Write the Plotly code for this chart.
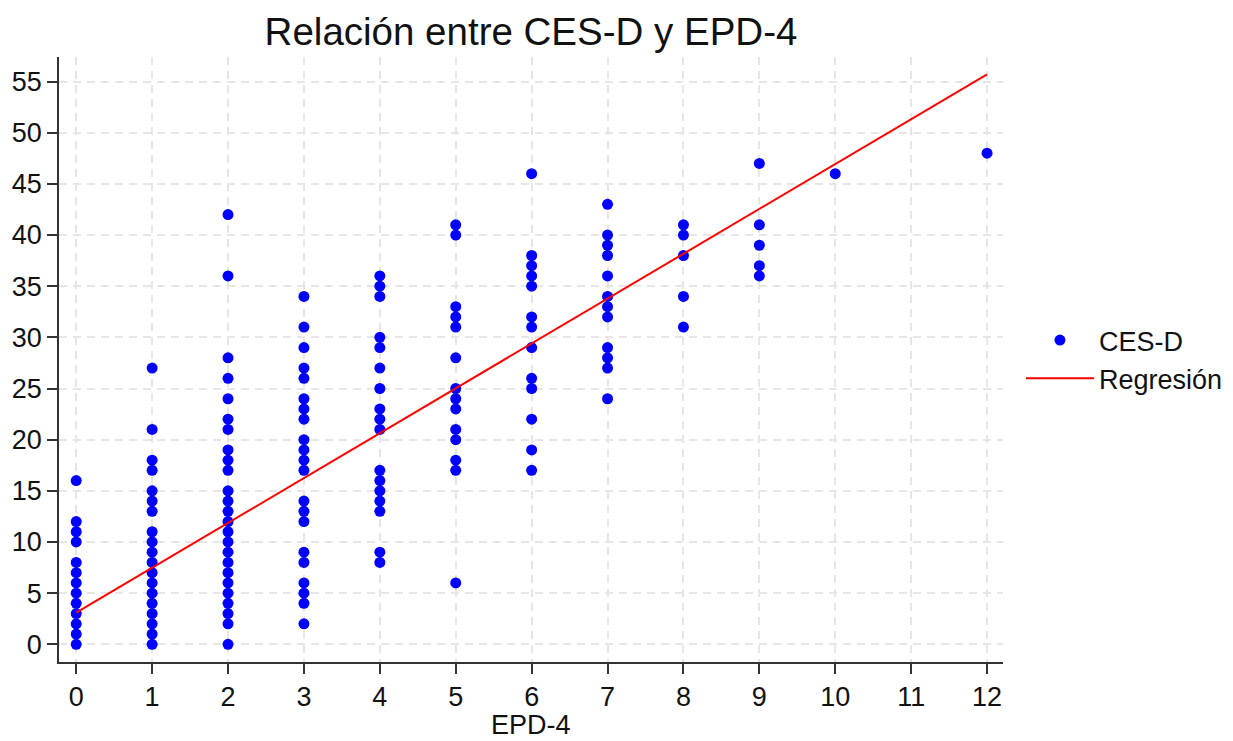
import numpy as np
import plotly.graph_objects as go

epd_0 = [16, 12, 11, 10, 8, 7, 6, 5, 4, 3, 2, 1, 0]
epd_1 = [27, 21, 18, 17, 15, 14, 13, 11, 10, 9, 8, 7, 6, 5, 4, 3, 2, 1, 0]
epd_2 = [42, 36, 28, 26, 24, 22, 21, 19, 18, 17, 15, 14, 13, 12, 11, 10, 9, 8, 7, 6, 5, 4, 3, 2, 0]
epd_3 = [34, 31, 29, 27, 26, 24, 23, 22, 20, 19, 18, 17, 14, 13, 12, 9, 8, 6, 5, 4, 2]
epd_4 = [36, 35, 34, 30, 29, 27, 25, 23, 22, 21, 17, 16, 15, 14, 13, 9, 8]
epd_5 = [41, 40, 33, 32, 31, 28, 25, 24, 23, 21, 20, 18, 17, 6]
epd_6 = [46, 38, 37, 36, 35, 32, 31, 29, 26, 25, 22, 19, 17]
epd_7 = [43, 40, 39, 38, 36, 34, 33, 32, 29, 28, 27, 24]
epd_8 = [41, 40, 38, 34, 31]
epd_9 = [47, 41, 39, 37, 36]
epd_10 = [46]
epd_12 = [48]

groups = {0: epd_0, 1: epd_1, 2: epd_2, 3: epd_3, 4: epd_4, 5: epd_5,
          6: epd_6, 7: epd_7, 8: epd_8, 9: epd_9, 10: epd_10, 12: epd_12}

x_vals = []
y_vals = []
for k, vals in groups.items():
    x_vals += [k] * len(vals)
    y_vals += vals

# Regression line (endpoints at EPD-4 = 0 and 12)
reg_intercept = 3.1
reg_slope = (55.7 - 3.1) / 12
reg_x = [0, 12]
reg_y = [reg_intercept + reg_slope * v for v in reg_x]

x_ticks = list(range(0, 13))
y_ticks = list(range(0, 60, 5))

FONT = "Liberation Sans"
FS = 27

fig = go.Figure()
fig.add_trace(go.Scatter(
    x=x_vals, y=y_vals, mode="markers", name="CES-D",
    marker=dict(color="#0000ff", size=11, line=dict(width=0)),
))
fig.add_trace(go.Scatter(
    x=reg_x, y=reg_y, mode="lines", name="Regresión",
    line=dict(color="#ff0000", width=2),
))

axis_common = dict(
    showline=True, linecolor="#333333", linewidth=1.5,
    ticks="outside", ticklen=10, tickwidth=1.5, tickcolor="#333333",
    showgrid=True, gridcolor="#e6e6e6", gridwidth=2, griddash="8px,6px",
    zeroline=False, automargin=False,
    tickfont=dict(family=FONT, size=FS, color="#111111"),
)

fig.update_layout(
    width=1233, height=741,
    paper_bgcolor="white", plot_bgcolor="white",
    margin=dict(l=59, r=230, t=57, b=79, autoexpand=False),
    title=dict(text="Relación entre CES-D y EPD-4", x=0.5, xref="paper",
               y=0.957, yanchor="middle",
               font=dict(family=FONT, size=38.5, color="#111111")),
    xaxis=dict(range=[-0.227, 12.21], tickvals=x_ticks, **axis_common),
    yaxis=dict(range=[-1.73, 57.4], tickvals=y_ticks, **axis_common),
    legend=dict(x=1.019, xanchor="left", y=0.5, yanchor="middle",
                font=dict(family=FONT, size=FS, color="#111111"),
                bgcolor="rgba(0,0,0,0)", itemwidth=68),
    showlegend=True,
    annotations=[dict(text="EPD-4", xref="paper", yref="paper", x=0.5, y=-0.1306,
                      xanchor="center", yanchor="bottom", showarrow=False, borderpad=0,
                      font=dict(family=FONT, size=FS, color="#111111"))],
)

fig.write_html("out.html", config={"displayModeBar": False},
               post_script="document.body.style.margin='0';")
